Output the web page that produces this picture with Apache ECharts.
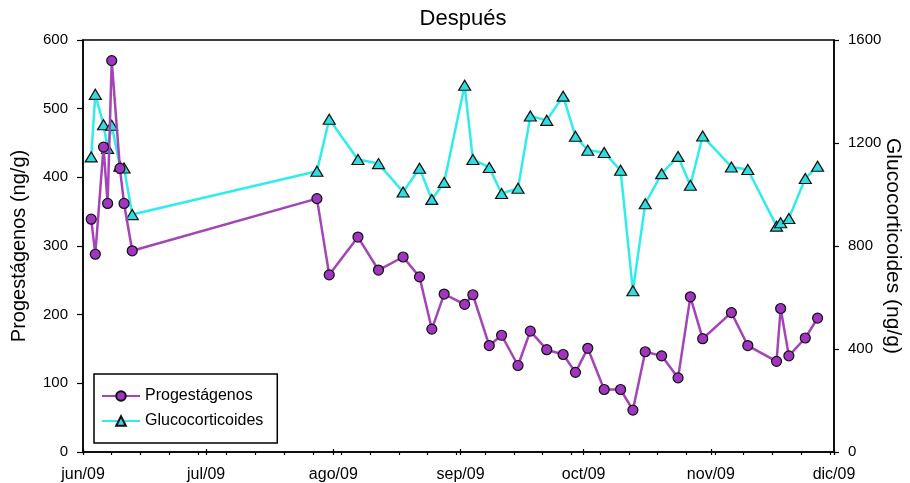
<!DOCTYPE html>
<html>
<head>
<meta charset="utf-8">
<script src="https://cdn.jsdelivr.net/npm/echarts@6/dist/echarts.min.js"></script>
<style>
html,body{margin:0;padding:0;background:#fff;}
#c{width:910px;height:483px;}
</style>
</head>
<body>
<div id="c"></div>
<script>
const titleText = 'Después';
const seriesNames = ['Progestágenos', 'Glucocorticoides'];
const leftAxisName = 'Progestágenos (ng/g)';
const rightAxisName = 'Glucocorticoides (ng/g)';
const monthLabels = ['ene','feb','mar','abr','may','jun','jul','ago','sep','oct','nov','dic'];
const xMin = '2009-06-01';
const xMax = '2009-12-01';
const dates = ['2009-06-03','2009-06-04','2009-06-06','2009-06-07','2009-06-08','2009-06-10','2009-06-11','2009-06-13',
  '2009-07-28','2009-07-31','2009-08-07','2009-08-12','2009-08-18','2009-08-22','2009-08-25','2009-08-28',
  '2009-09-02','2009-09-04','2009-09-08','2009-09-11','2009-09-15','2009-09-18','2009-09-22','2009-09-26','2009-09-29',
  '2009-10-02','2009-10-06','2009-10-10','2009-10-13','2009-10-16','2009-10-20','2009-10-24','2009-10-27','2009-10-30',
  '2009-11-06','2009-11-10','2009-11-17','2009-11-18','2009-11-20','2009-11-24','2009-11-27'];
const progestagenos = [339,288,444,362,570,413,362,293,
  369,258,313,265,284,255,179,230,
  215,229,155,170,126,176,149,142,116,
  151,91,91,61,146,140,108,226,165,
  203,155,132,209,140,166,195];
const glucocorticoides = [1146,1389,1271,1179,1269,1110,1103,922,
  1090,1292,1136,1120,1010,1102,981,1047,
  1424,1136,1105,1004,1024,1305,1288,1382,1226,
  1172,1163,1094,626,964,1081,1148,1036,1227,
  1107,1097,877,890,907,1062,1110];
const leftTicks = {min:0, max:600, interval:100};
const rightTicks = {min:0, max:1600, interval:400};
const weekDays = 183; // days from jun/09 to dic/09, for weekly minor ticks

const FONT = 'Liberation Sans, Arial, sans-serif';
const chart = echarts.init(document.getElementById('c'), null, {renderer:'canvas'});

const monthFmt = function(v){
  const d = new Date(v);
  return monthLabels[d.getMonth()] + '/' + String(d.getFullYear()).slice(2);
};
const plainFmt = function(v){ return String(v); };

chart.setOption({
  animation: false,
  backgroundColor: '#ffffff',
  title: {
    text: titleText,
    left: 458, top: 3,
    textAlign: 'center',
    textStyle: {fontFamily: FONT, fontSize: 22, fontWeight: 'normal', color: '#000'}
  },
  grid: {
    left: 83, right: 76, top: 40, bottom: 31,
    outerBoundsMode: 'none',
    containLabel: false,
    show: true, borderColor: '#000', borderWidth: 1.5, backgroundColor: 'transparent'
  },
  legend: {
    orient: 'vertical',
    left: 94, top: 374,
    data: seriesNames,
    itemWidth: 38, itemHeight: 12, itemGap: 9, itemTextGap: 11,
    padding: [14, 14, 14, 7],
    borderColor: '#000', borderWidth: 1.5,
    textStyle: {fontFamily: FONT, fontSize: 16, color: '#000'}
  },
  xAxis: [{
    type: 'time',
    position: 'bottom',
    min: xMin, max: xMax,
    splitNumber: 6,
    axisLine: {show: true, lineStyle: {color: '#000', width: 1.5}},
    axisTick: {show: true, length: 3, lineStyle: {color: '#000', width: 1.2}},
    axisLabel: {
      formatter: monthFmt, fontFamily: FONT, fontSize: 16, color: '#000', margin: 15,
      showMinLabel: true, showMaxLabel: true, hideOverlap: false
    },
    splitLine: {show: false}
  }, {
    type: 'time',
    position: 'bottom',
    min: xMin, max: xMax,
    splitNumber: 6,
    axisLine: {show: false},
    axisTick: {show: true, inside: true, length: 3, lineStyle: {color: '#000', width: 1.2}},
    axisLabel: {show: false},
    splitLine: {show: false}
  }, {
    type: 'value',
    position: 'bottom',
    min: 0, max: weekDays, interval: 7,
    axisLine: {show: false},
    axisTick: {show: true, length: 3, lineStyle: {color: '#000', width: 1.2}},
    axisLabel: {show: false},
    splitLine: {show: false}
  }],
  yAxis: [{
    type: 'value',
    position: 'left',
    min: leftTicks.min, max: leftTicks.max, interval: leftTicks.interval,
    name: leftAxisName,
    nameLocation: 'middle', nameRotate: 90, nameGap: 54,
    nameMoveOverlap: false,
    nameTextStyle: {fontFamily: FONT, fontSize: 20, color: '#000'},
    axisLine: {show: true, lineStyle: {color: '#000', width: 1.5}},
    axisTick: {show: true, length: 6, lineStyle: {color: '#000', width: 1.2}},
    axisLabel: {formatter: plainFmt, fontFamily: FONT, fontSize: 15, color: '#000', margin: 15},
    splitLine: {show: false}
  }, {
    type: 'value',
    position: 'right',
    min: rightTicks.min, max: rightTicks.max, interval: rightTicks.interval,
    name: rightAxisName,
    nameLocation: 'middle', nameRotate: -90, nameGap: 48,
    nameMoveOverlap: false,
    nameTextStyle: {fontFamily: FONT, fontSize: 21, color: '#000'},
    axisLine: {show: true, lineStyle: {color: '#000', width: 1.5}},
    axisTick: {show: true, length: 5, lineStyle: {color: '#000', width: 1.2}},
    axisLabel: {formatter: plainFmt, fontFamily: FONT, fontSize: 15, color: '#000', margin: 14},
    splitLine: {show: false}
  }],
  series: [{
    name: seriesNames[0],
    type: 'line',
    xAxisIndex: 0, yAxisIndex: 0,
    data: dates.map((d, i) => [d, progestagenos[i]]),
    symbol: 'circle', symbolSize: 10,
    lineStyle: {color: '#A444B6', width: 2.5},
    itemStyle: {color: '#A035C0', borderColor: '#111', borderWidth: 1.2},
    z: 3
  }, {
    name: seriesNames[1],
    type: 'line',
    xAxisIndex: 0, yAxisIndex: 1,
    data: dates.map((d, i) => [d, glucocorticoides[i]]),
    symbol: 'triangle', symbolSize: [12, 10],
    lineStyle: {color: '#30ECEC', width: 2.5},
    itemStyle: {color: '#2FDCE0', borderColor: '#111', borderWidth: 1.2},
    z: 2
  }]
});
</script>
</body>
</html>
